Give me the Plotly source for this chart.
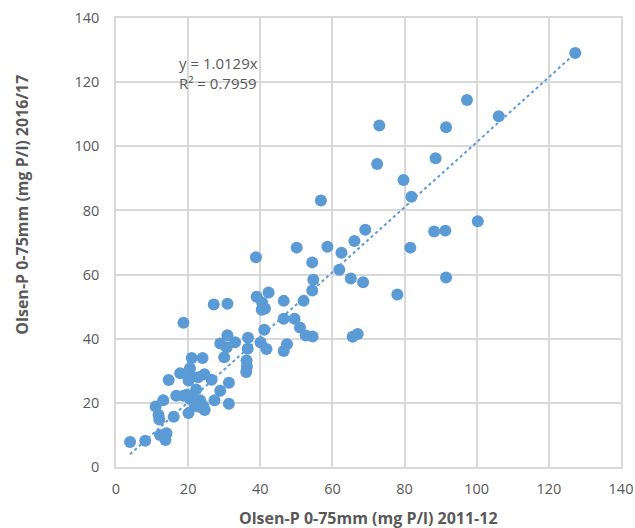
import numpy as np
import plotly.graph_objects as go

x_2011 = [3.9, 8.1, 12.2, 14.0, 13.7,
          11.0, 13.1, 11.8, 12.0, 16.0,
          14.6, 17.8, 18.7,
          16.7, 18.7, 20.1,
          21.0, 24.0, 20.5, 20.9, 20.1, 22.8, 24.5, 26.5,
          19.6, 20.5, 22.2, 21.4, 22.8, 23.3, 21.9, 24.2, 23.5, 24.6,
          27.3, 28.9, 31.3, 31.3,
          27.1, 30.9,
          28.9, 30.9, 30.7, 33.0, 30.0,
          36.6, 36.5, 36.2, 36.3, 36.1,
          38.8,
          39.0, 42.3, 40.5, 40.4, 41.3,
          41.1, 40.1, 41.7,
          46.5, 52.0, 46.5, 49.5, 51.0, 52.6, 54.5,
          47.4, 46.5,
          54.4, 54.7, 54.4,
          50.1, 56.8, 58.6, 61.9, 62.5, 65.1, 66.1, 68.5, 69.1,
          65.6, 67.0,
          72.4, 73.0, 78.0, 79.7, 81.6, 81.9,
          88.2, 88.6, 91.3, 91.5, 91.5, 97.3, 100.3, 106.1, 127.3]
y_2016 = [7.8, 8.2, 10.0, 10.5, 8.4,
          18.9, 20.8, 16.2, 14.8, 15.7,
          27.1, 29.2, 45.0,
          22.2, 22.2, 16.8,
          34.0, 34.0, 30.8, 28.3, 27.0, 28.0, 28.9, 27.2,
          22.5, 21.3, 24.2, 21.0, 20.2, 20.8, 19.0, 19.0, 18.6, 17.8,
          20.8, 23.8, 26.3, 19.7,
          50.7, 50.9,
          38.5, 41.1, 37.3, 38.9, 34.2,
          40.3, 36.9, 33.2, 31.4, 29.6,
          65.4,
          53.1, 54.4, 51.3, 49.0, 49.4,
          42.8, 38.8, 36.8,
          51.8, 51.8, 46.2, 46.2, 43.5, 41.0, 40.7,
          38.3, 36.2,
          55.0, 58.4, 63.8,
          68.4, 83.1, 68.7, 61.5, 66.8, 58.8, 70.5, 57.6, 74.0,
          40.6, 41.5,
          94.5, 106.5, 53.8, 89.5, 68.4, 84.3,
          73.4, 96.3, 73.7, 105.9, 59.1, 114.4, 76.6, 109.4, 129.1]

slope = 1.0129
r_squared = 0.7959
axis_ticks = [0, 20, 40, 60, 80, 100, 120, 140]
x_title = "Olsen-P 0-75mm (mg P/l) 2011-12"
y_title = "Olsen-P 0-75mm (mg P/l) 2016/17"

blue = "#5B9BD5"
grey_text = "#595959"
grid = "#D9D9D9"
FONT = "Open Sans"

x_line = np.array([min(x_2011), max(x_2011)])
y_line = slope * x_line

fig = go.Figure()
fig.add_trace(go.Scatter(x=x_line, y=y_line, mode="lines",
                         line=dict(color=blue, width=2, dash="dot"),
                         hoverinfo="skip", showlegend=False))
fig.add_trace(go.Scatter(x=x_2011, y=y_2016, mode="markers",
                         marker=dict(color=blue, size=12, line=dict(width=0)),
                         showlegend=False))

fig.add_annotation(x=0, y=1, xref="paper", yref="paper", showarrow=False,
                   text=f"y = {slope}x<br>R² = {r_squared}", align="left",
                   xanchor="left", yanchor="top", xshift=61, yshift=-33,
                   font=dict(family=FONT, size=15, color=grey_text))

fig.add_annotation(x=0.5, y=0, xref="paper", yref="paper", showarrow=False,
                   text=f"<b>{x_title}</b>", xanchor="center", yanchor="middle",
                   yshift=-51, font=dict(family=FONT, size=16, color=grey_text))

fig.add_annotation(x=0, y=81.8, xref="paper", yref="y", showarrow=False,
                   text=f"<b>{y_title}</b>", textangle=-90,
                   xanchor="center", yanchor="middle", xshift=-94,
                   font=dict(family=FONT, size=16, color=grey_text))

axis_common = dict(range=[0, 140], tickvals=axis_ticks, showgrid=True,
                   gridcolor=grid, gridwidth=1.5, zeroline=False,
                   showline=True, linecolor=grid, linewidth=1.5, mirror=True,
                   ticks="", automargin=False,
                   tickfont=dict(family=FONT, size=14.5, color=grey_text),
                   fixedrange=True)

fig.update_layout(
    width=635, height=528,
    margin=dict(l=116, r=14, t=17.5, b=61.3),
    paper_bgcolor="white", plot_bgcolor="white",
    xaxis=dict(**axis_common, ticklabelstandoff=8),
    yaxis=dict(**axis_common, ticklabelstandoff=12),
)

fig.write_html(
    "out.html",
    config={"displayModeBar": False},
    post_script="document.body.style.margin='0';document.body.style.overflow='hidden';",
)
